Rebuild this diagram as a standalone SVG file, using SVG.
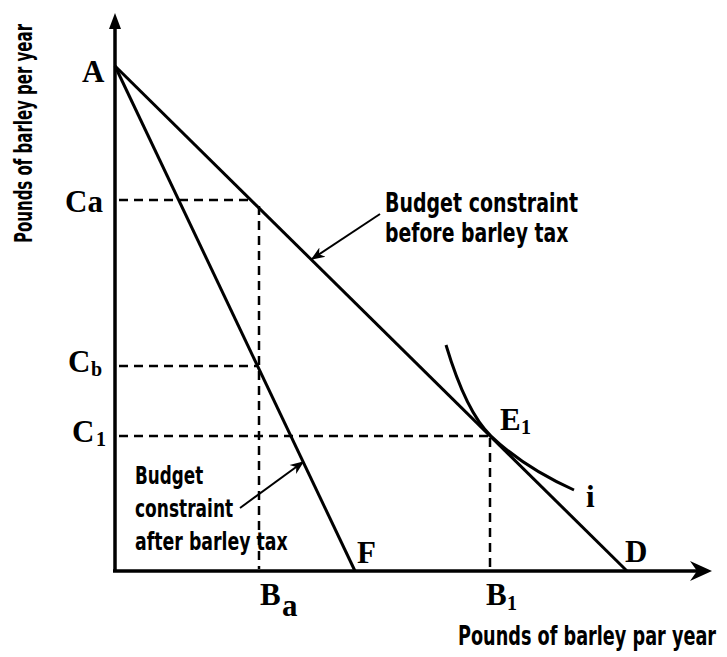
<svg xmlns="http://www.w3.org/2000/svg" width="727" height="657" viewBox="0 0 727 657">
<defs>
<style>
.ax{stroke:#000;stroke-width:3.5;fill:none}
.ln{stroke:#000;stroke-width:3;fill:none}
.ds{stroke:#000;stroke-width:2.5;fill:none;stroke-dasharray:9 6}
.pt{stroke:#000;stroke-width:2;fill:none}
.lab{font-family:"Liberation Serif","Times New Roman",serif;font-weight:bold;font-size:31px;fill:#000}
.sub{font-family:"Liberation Serif","Times New Roman",serif;font-weight:bold;font-size:20px;fill:#000}
.cap{font-family:"DejaVu Sans","Liberation Sans",sans-serif;font-weight:bold;fill:#000}
</style>
<marker id="ah" viewBox="0 0 10 10" refX="9" refY="5" markerWidth="14" markerHeight="14" markerUnits="userSpaceOnUse" orient="auto">
<path d="M0,1 L10,5 L0,9 L3,5 Z" fill="#000"/>
</marker>
</defs>
<rect width="727" height="657" fill="#fff"/>
<g id="axes">
<line class="ax" x1="115" y1="571" x2="115" y2="26"/>
<path d="M115,13 L109,29 L121,29 Z" fill="#000"/>
<line class="ax" x1="113" y1="571" x2="706" y2="571"/>
<path d="M712,571 L690,561 L697,571 L690,581 Z" fill="#000"/>
</g>
<g id="connectors">
<line class="ln" x1="115" y1="66" x2="627" y2="571"/>
<line class="ln" x1="115" y1="66" x2="355" y2="571"/>
<path class="ln" d="M446,345 C458,385 472,418 491,436 C515,459 545,477 574,490"/>
<line class="ds" x1="119" y1="200" x2="253" y2="200"/>
<line class="ds" x1="259" y1="206" x2="259" y2="569"/>
<line class="ds" x1="119" y1="366" x2="257" y2="366"/>
<line class="ds" x1="119" y1="436" x2="489" y2="436"/>
<line class="ds" x1="490" y1="438" x2="490" y2="569"/>
<line class="pt" x1="380" y1="214" x2="312" y2="259" marker-end="url(#ah)"/>
<line class="pt" x1="240" y1="508" x2="303" y2="462" marker-end="url(#ah)"/>
</g>
<g id="labels">
<text class="lab" x="82" y="82">A</text>
<text class="lab" x="65" y="212">Ca</text>
<text class="lab" x="68" y="372">C</text><text class="sub" x="91" y="376">b</text>
<text class="lab" x="72" y="442">C</text><text class="sub" x="96" y="446">1</text>
<text class="lab" x="260" y="605">B</text><text class="lab" x="282" y="616">a</text>
<text class="lab" x="486" y="605">B</text><text class="sub" x="507" y="610">1</text>
<text class="lab" x="500" y="430">E</text><text class="sub" x="521" y="434">1</text>
<text class="lab" x="586" y="507">i</text>
<text class="lab" x="625" y="562">D</text>
<text class="lab" x="357" y="563">F</text>
</g>
<g id="captions">
<text class="cap" transform="translate(385,212) scale(0.65,1)" font-size="27" textLength="297" lengthAdjust="spacingAndGlyphs">Budget constraint</text>
<text class="cap" transform="translate(385,242) scale(0.65,1)" font-size="27" textLength="282" lengthAdjust="spacingAndGlyphs">before barley tax</text>
<text class="cap" transform="translate(135,484) scale(0.65,1)" font-size="25" textLength="105" lengthAdjust="spacingAndGlyphs">Budget</text>
<text class="cap" transform="translate(135,517) scale(0.65,1)" font-size="25" textLength="151" lengthAdjust="spacingAndGlyphs">constraint</text>
<text class="cap" transform="translate(135,550) scale(0.65,1)" font-size="25" textLength="235" lengthAdjust="spacingAndGlyphs">after barley tax</text>
<text class="cap" transform="translate(458,645) scale(0.65,1)" font-size="27" textLength="397" lengthAdjust="spacingAndGlyphs">Pounds of barley par year</text>
<text class="cap" transform="translate(32,243) rotate(-90) scale(0.65,1)" font-size="24" textLength="337" lengthAdjust="spacingAndGlyphs">Pounds of barley per year</text>
</g>
</svg>
